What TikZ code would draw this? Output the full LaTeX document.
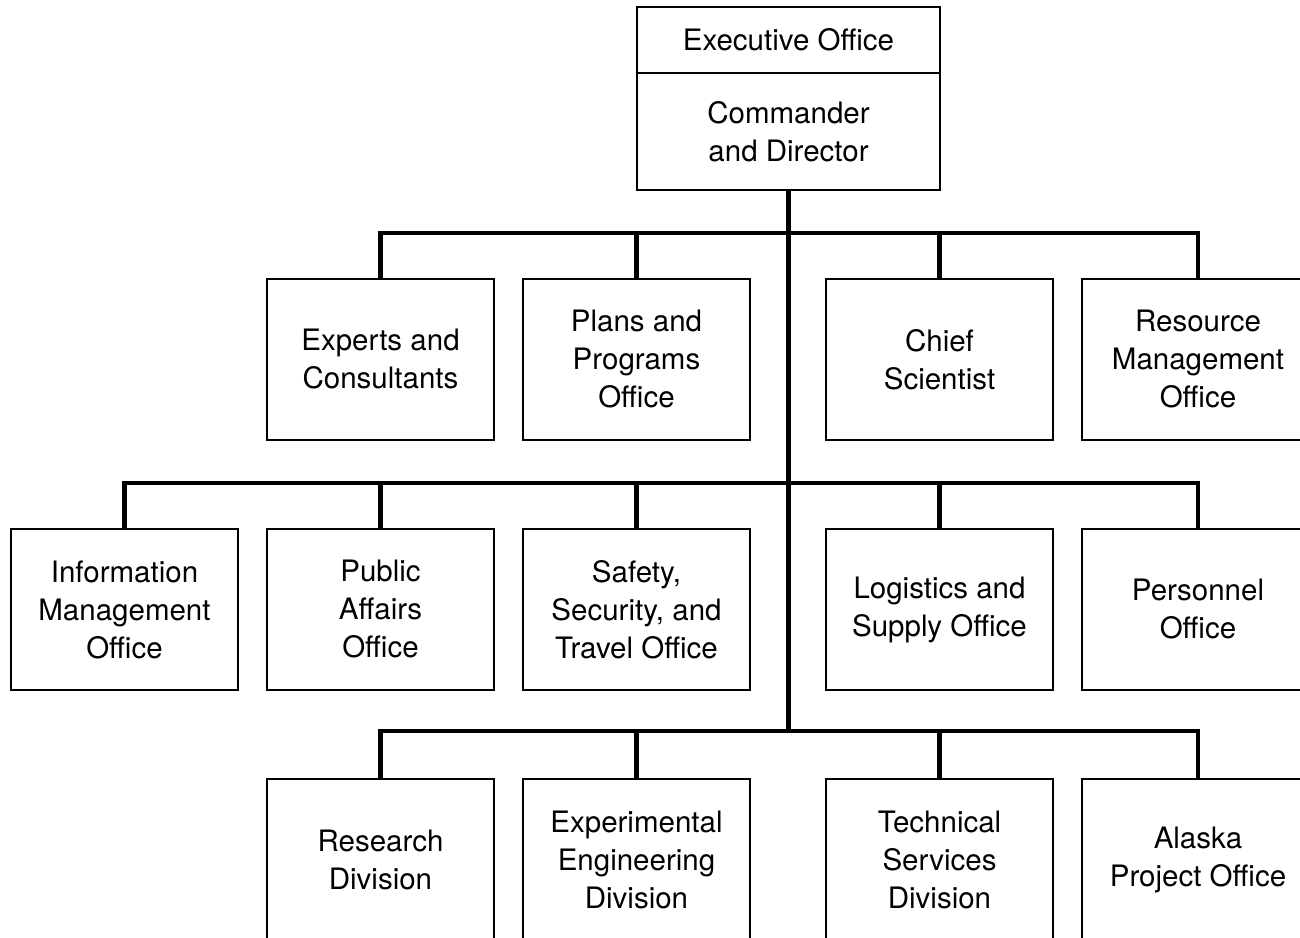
\documentclass[tikz,border=0pt]{standalone}
\usepackage{fontspec}
\setmainfont{TeX Gyre Heros}
\begin{document}
\begin{tikzpicture}[x=1pt,y=-1pt,
  box/.style={draw,line width=2pt,minimum width=227pt,minimum height=161pt,align=center,inner sep=0pt,font=\fontsize{29.5}{38}\selectfont},
  rbox/.style={box,minimum width=232pt},
  bus/.style={line width=4.5pt}]
\useasboundingbox (0,0) rectangle (1300,937);
\clip (0,0) rectangle (1300,937);
% top
\node[box,minimum width=303pt,minimum height=66pt] (exec) at (788.5,40) {Executive Office};
\node[box,minimum width=303pt,minimum height=117pt] (cmd) at (788.5,131.5) {Commander\\and Director};
% row 1
\node[box] (exp) at (380.5,359.5) {Experts and\\Consultants};
\node[box] (plans) at (636.5,359.5) {Plans and\\Programs\\Office};
\node[box] (chief) at (939.5,359.5) {Chief\\Scientist};
\node[rbox] (res) at (1198,359.5) {Resource\\Management\\Office};
% row 2
\node[box] (info) at (124.5,609.5) {Information\\Management\\Office};
\node[box] (pub) at (380.5,609.5) {Public\\Affairs\\Office};
\node[box] (safe) at (636.5,609.5) {Safety,\\Security, and\\Travel Office};
\node[box] (log) at (939.5,609.5) {Logistics and\\Supply Office};
\node[rbox] (pers) at (1198,609.5) {Personnel\\Office};
% row 3
\node[box] (rd) at (380.5,859.5) {Research\\Division};
\node[box] (eed) at (636.5,859.5) {Experimental\\Engineering\\Division};
\node[box] (tsd) at (939.5,859.5) {Technical\\Services\\Division};
\node[rbox] (apo) at (1198,859.5) {Alaska\\Project Office};
% buses
\coordinate (b1) at (788.5,233);
\coordinate (b2) at (788.5,483);
\coordinate (b3) at (788.5,731);
\draw[bus] (cmd.south) -- (b3);
\foreach \n in {exp,plans,chief,res} \draw[bus] (\n.north) |- (b1);
\foreach \n in {info,pub,safe,log,pers} \draw[bus] (\n.north) |- (b2);
\foreach \n in {rd,eed,tsd,apo} \draw[bus] (\n.north) |- (b3);
\end{tikzpicture}
\end{document}
